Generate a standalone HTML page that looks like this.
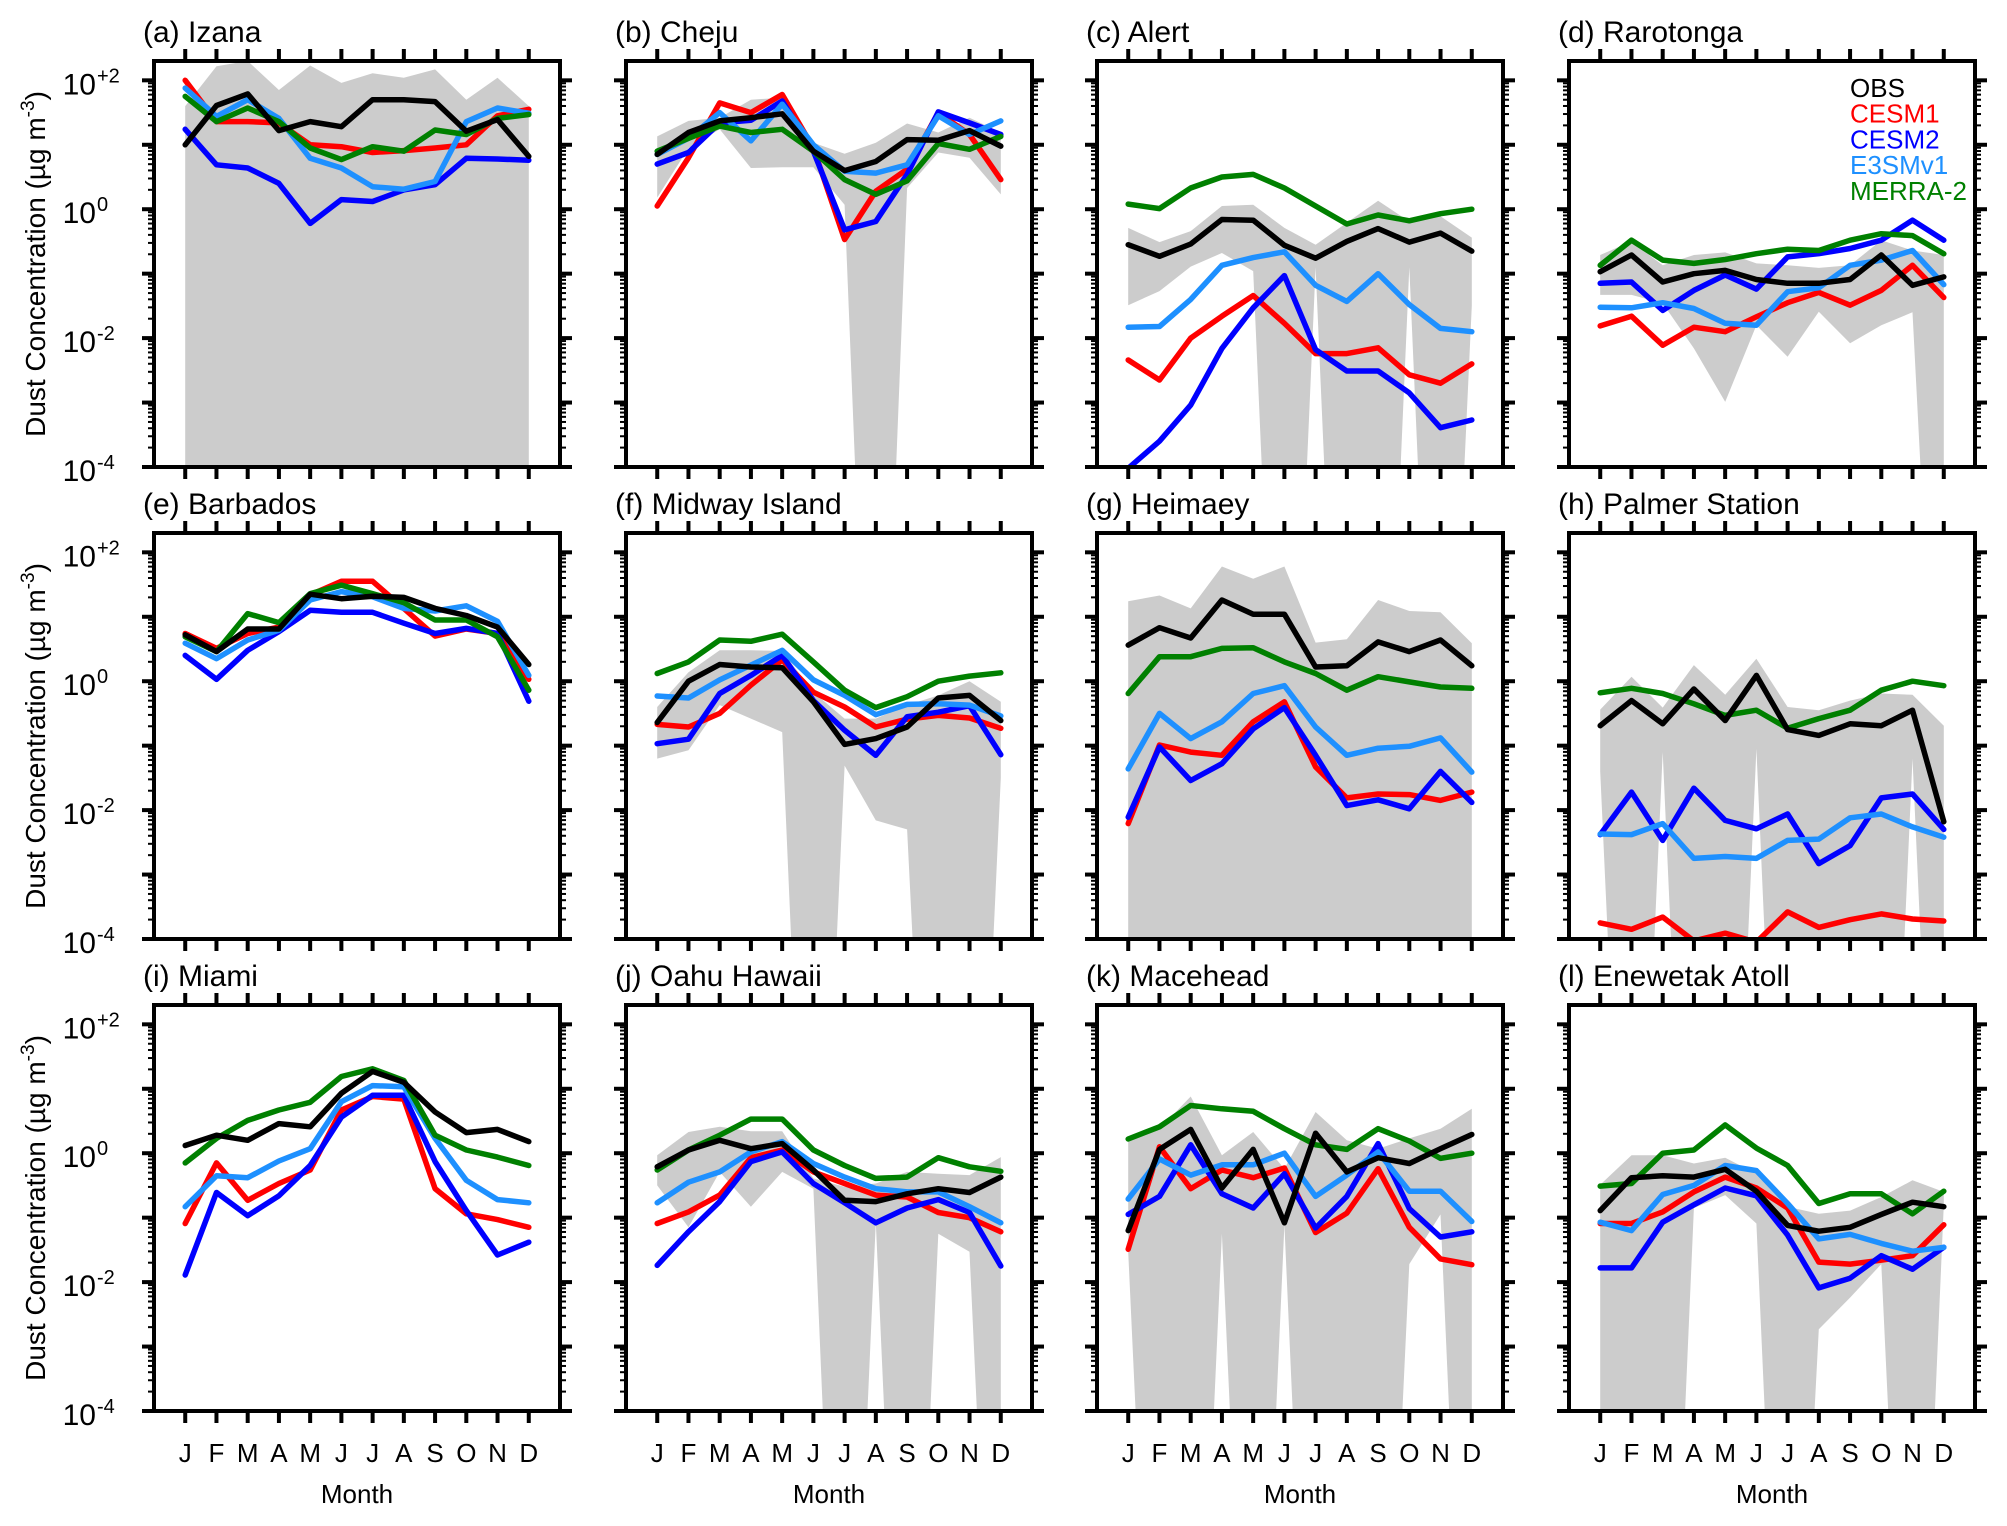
<!DOCTYPE html>
<html><head><meta charset="utf-8"><title>Dust concentration</title>
<style>html,body{margin:0;padding:0;background:#fff;width:2007px;height:1526px;overflow:hidden}svg{display:block}text{font-family:"Liberation Sans",Arial,sans-serif}</style>
</head><body>
<svg id="chart" width="2007" height="1526" viewBox="0 0 2007 1526" xmlns="http://www.w3.org/2000/svg"></svg>
<script>
const months = ["J","F","M","A","M","J","J","A","S","O","N","D"];
const stationNames = ["(a) Izana","(b) Cheju","(c) Alert","(d) Rarotonga","(e) Barbados","(f) Midway Island","(g) Heimaey","(h) Palmer Station","(i) Miami","(j) Oahu Hawaii","(k) Macehead","(l) Enewetak Atoll"];
const seriesNames = ["CESM1","CESM2","E3SMv1","MERRA-2","OBS"];
const legendNames = ["OBS","CESM1","CESM2","E3SMv1","MERRA-2"];
const yTickExps = ["+2","0","-2","-4"];
const yTickVals = [2,0,-2,-4];
// log10 of dust concentration (ug m-3)
const obsLog = [
 [1.0,1.61,1.79,1.22,1.36,1.28,1.7,1.7,1.67,1.21,1.39,0.82],
 [0.85,1.19,1.37,1.42,1.48,0.9,0.6,0.74,1.08,1.07,1.22,0.98],
 [-0.55,-0.73,-0.54,-0.16,-0.17,-0.56,-0.76,-0.5,-0.3,-0.51,-0.37,-0.65],
 [-0.97,-0.71,-1.13,-1.0,-0.95,-1.09,-1.15,-1.15,-1.09,-0.71,-1.18,-1.05],
 [0.72,0.46,0.81,0.81,1.35,1.28,1.32,1.3,1.13,1.02,0.84,0.26],
 [-0.64,0.0,0.26,0.22,0.21,-0.32,-0.98,-0.89,-0.71,-0.26,-0.22,-0.61],
 [0.56,0.83,0.67,1.26,1.04,1.04,0.22,0.24,0.61,0.46,0.64,0.24],
 [-0.69,-0.3,-0.66,-0.12,-0.61,0.09,-0.75,-0.84,-0.66,-0.69,-0.45,-2.18],
 [0.12,0.28,0.2,0.46,0.41,0.93,1.27,1.1,0.64,0.32,0.37,0.18],
 [-0.21,0.05,0.2,0.07,0.15,-0.26,-0.73,-0.75,-0.63,-0.55,-0.61,-0.37],
 [-1.2,0.06,0.37,-0.54,0.06,-1.08,0.31,-0.29,-0.07,-0.16,0.07,0.29],
 [-0.89,-0.38,-0.35,-0.37,-0.25,-0.59,-1.12,-1.21,-1.15,-0.95,-0.76,-0.83]
];
const cesm1Log = [
 [2.0,1.36,1.36,1.34,1.0,0.97,0.88,0.91,0.95,1.0,1.45,1.55],
 [0.05,0.8,1.65,1.5,1.78,0.95,-0.47,0.28,0.62,1.5,1.16,0.46],
 [-2.34,-2.65,-2.0,-1.66,-1.34,-1.77,-2.24,-2.24,-2.15,-2.57,-2.7,-2.4],
 [-1.81,-1.66,-2.11,-1.83,-1.9,-1.67,-1.45,-1.29,-1.49,-1.26,-0.87,-1.37],
 [0.74,0.51,0.74,0.84,1.34,1.55,1.55,1.13,0.7,0.81,0.74,0.03],
 [-0.67,-0.71,-0.5,-0.06,0.33,-0.17,-0.4,-0.71,-0.59,-0.53,-0.57,-0.73],
 [-2.21,-0.99,-1.1,-1.15,-0.63,-0.32,-1.33,-1.81,-1.75,-1.76,-1.85,-1.72],
 [-3.75,-3.85,-3.66,-4.03,-3.91,-4.05,-3.58,-3.82,-3.7,-3.61,-3.69,-3.72],
 [-1.09,-0.15,-0.73,-0.47,-0.26,0.67,0.88,0.84,-0.55,-0.94,-1.03,-1.15],
 [-1.09,-0.91,-0.65,-0.07,0.05,-0.29,-0.47,-0.65,-0.68,-0.92,-1.0,-1.22],
 [-1.49,0.1,-0.55,-0.26,-0.38,-0.23,-1.23,-0.93,-0.24,-1.15,-1.64,-1.73],
 [-1.09,-1.09,-0.91,-0.6,-0.37,-0.54,-0.85,-1.69,-1.72,-1.66,-1.59,-1.11]
];
const cesm2Log = [
 [1.24,0.69,0.64,0.4,-0.22,0.15,0.12,0.3,0.38,0.79,0.78,0.76],
 [0.7,0.88,1.34,1.38,1.68,0.9,-0.32,-0.19,0.54,1.51,1.34,1.16],
 [-4.02,-3.6,-3.04,-2.16,-1.53,-1.03,-2.18,-2.51,-2.51,-2.85,-3.39,-3.27],
 [-1.15,-1.13,-1.57,-1.26,-1.02,-1.24,-0.74,-0.69,-0.61,-0.48,-0.17,-0.48],
 [0.4,0.03,0.48,0.77,1.1,1.07,1.07,0.9,0.74,0.82,0.74,-0.31],
 [-0.97,-0.9,-0.19,0.09,0.4,-0.3,-0.76,-1.15,-0.55,-0.48,-0.38,-1.14],
 [-2.11,-1.02,-1.54,-1.28,-0.74,-0.41,-1.15,-1.93,-1.84,-1.98,-1.4,-1.88],
 [-2.38,-1.72,-2.47,-1.66,-2.16,-2.29,-2.06,-2.83,-2.55,-1.81,-1.75,-2.3],
 [-1.89,-0.61,-0.97,-0.66,-0.19,0.56,0.9,0.9,-0.13,-0.89,-1.58,-1.38],
 [-1.74,-1.22,-0.75,-0.13,0.02,-0.47,-0.77,-1.08,-0.85,-0.72,-0.92,-1.75],
 [-0.95,-0.67,0.13,-0.63,-0.85,-0.32,-1.16,-0.67,0.15,-0.86,-1.3,-1.22],
 [-1.78,-1.78,-1.07,-0.8,-0.54,-0.66,-1.27,-2.09,-1.94,-1.59,-1.8,-1.46]
];
const e3smLog = [
 [1.88,1.44,1.7,1.41,0.79,0.64,0.35,0.31,0.43,1.36,1.57,1.49],
 [0.85,1.1,1.5,1.06,1.63,1.0,0.59,0.56,0.69,1.45,1.16,1.37],
 [-1.83,-1.82,-1.4,-0.87,-0.75,-0.66,-1.18,-1.43,-1.0,-1.48,-1.85,-1.9],
 [-1.52,-1.53,-1.45,-1.54,-1.77,-1.8,-1.28,-1.22,-0.87,-0.79,-0.64,-1.17],
 [0.59,0.35,0.64,0.79,1.26,1.39,1.31,1.13,1.09,1.17,0.93,0.09],
 [-0.23,-0.26,0.02,0.25,0.48,0.02,-0.22,-0.52,-0.36,-0.35,-0.37,-0.54],
 [-1.36,-0.5,-0.89,-0.63,-0.19,-0.07,-0.71,-1.15,-1.04,-1.01,-0.88,-1.41],
 [-2.37,-2.38,-2.21,-2.75,-2.72,-2.75,-2.47,-2.45,-2.12,-2.06,-2.26,-2.42],
 [-0.83,-0.35,-0.38,-0.12,0.07,0.8,1.05,1.03,0.23,-0.42,-0.72,-0.77],
 [-0.77,-0.45,-0.29,0.02,0.18,-0.16,-0.37,-0.55,-0.6,-0.6,-0.83,-1.08],
 [-0.71,-0.09,-0.34,-0.18,-0.18,0.0,-0.67,-0.34,0.02,-0.59,-0.59,-1.06],
 [-1.07,-1.2,-0.64,-0.5,-0.19,-0.27,-0.78,-1.33,-1.26,-1.4,-1.52,-1.46]
];
const merraLog = [
 [1.75,1.36,1.57,1.36,0.95,0.77,0.97,0.9,1.23,1.16,1.41,1.47],
 [0.9,1.1,1.29,1.19,1.24,0.9,0.46,0.23,0.44,1.02,0.93,1.13],
 [0.08,0.01,0.33,0.5,0.54,0.33,0.05,-0.23,-0.09,-0.18,-0.07,0.0],
 [-0.87,-0.48,-0.79,-0.84,-0.78,-0.69,-0.62,-0.64,-0.48,-0.38,-0.41,-0.69],
 [0.69,0.46,1.05,0.91,1.36,1.49,1.36,1.22,0.95,0.95,0.69,-0.14],
 [0.12,0.3,0.64,0.62,0.73,0.3,-0.14,-0.41,-0.24,0.0,0.08,0.13],
 [-0.19,0.38,0.38,0.51,0.52,0.3,0.12,-0.14,0.07,-0.01,-0.09,-0.11],
 [-0.18,-0.11,-0.19,-0.35,-0.53,-0.45,-0.73,-0.58,-0.45,-0.14,0.0,-0.07],
 [-0.15,0.23,0.51,0.67,0.79,1.19,1.31,1.13,0.28,0.05,-0.06,-0.19],
 [-0.26,0.05,0.28,0.53,0.53,0.05,-0.19,-0.39,-0.37,-0.07,-0.21,-0.28],
 [0.22,0.41,0.74,0.69,0.65,0.38,0.13,0.06,0.38,0.19,-0.08,0.0],
 [-0.51,-0.47,0.0,0.05,0.44,0.08,-0.19,-0.78,-0.63,-0.63,-0.94,-0.59]
];
const bandHiLog = [
 [1.6,2.22,2.3,1.85,2.23,1.96,2.11,2.04,2.17,1.7,2.04,1.6],
 [1.13,1.37,1.42,1.7,1.73,1.03,0.86,1.03,1.33,1.19,1.42,1.19],
 [-0.29,-0.51,-0.34,0.05,0.07,-0.29,-0.55,-0.21,0.13,-0.19,-0.11,-0.44],
 [-0.71,-0.5,-0.87,-0.71,-0.67,-0.84,-0.87,-0.91,-0.87,-0.48,-0.64,-0.71],
 null,
 [-0.4,0.14,0.48,0.48,0.47,-0.17,-0.58,-0.58,-0.37,-0.22,0.0,-0.32],
 [1.24,1.33,1.13,1.78,1.59,1.78,0.6,0.65,1.26,1.09,1.07,0.59],
 [-0.44,0.07,-0.41,0.25,-0.21,0.35,-0.4,-0.45,-0.3,-0.19,-0.21,-0.69],
 null,
 [-0.03,0.33,0.41,0.34,0.34,-0.39,-0.52,-0.47,-0.29,-0.32,-0.34,-0.06],
 [0.23,0.38,0.88,-0.03,0.33,-0.24,0.64,0.2,0.07,0.23,0.38,0.69],
 [-0.49,-0.03,-0.03,-0.16,-0.07,-0.32,-0.83,-0.94,-0.89,-0.68,-0.42,-0.6]
];
const bandLoLog = [
 [-12,-12,-12,-12,-12,-12,-12,-12,-12,-12,-12,-12],
 [0.18,0.95,1.24,0.64,0.65,0.65,0.07,-12,0.33,0.88,0.8,0.23],
 [-1.49,-1.27,-0.89,-0.68,-0.96,-12,-0.9,-12,-12,-0.9,-12,-1.5],
 [-1.33,-1.33,-1.46,-2.16,-2.99,-1.8,-2.29,-1.59,-2.08,-1.8,-1.6,-11],
 null,
 [-1.2,-1.07,-0.37,-0.58,-0.79,-12,-1.31,-2.16,-2.3,-12,-12,-1.5],
 [-12,-12,-12,-12,-12,-12,-12,-12,-12,-12,-12,-12],
 [-1.4,-12,-1.1,-12,-12,-1.05,-12,-12,-12,-12,-1.2,-12],
 null,
 [-0.5,-1.15,-0.29,-0.83,-0.29,-0.55,-12,-1.07,-12,-1.25,-1.53,-12],
 [-1.53,-12,-12,-1.25,-12,-1.11,-12,-12,-12,-1.72,-0.95,-12],
 [-12,-12,-12,-0.85,-0.65,-1.09,-12,-2.73,-2.24,-1.72,-12,-0.8]
];
const seriesData = [cesm1Log, cesm2Log, e3smLog, merraLog, obsLog];
const seriesColors = ["#ff0000","#0000ff","#1e90ff","#008000","#000000"];
const legendColors = ["#000000","#ff0000","#0000ff","#1e90ff","#008000"];

const NS = "http://www.w3.org/2000/svg";
const svg = document.getElementById("chart");
const lefts = [154, 626, 1097, 1569];
const tops = [61, 533, 1005];
const W = 406, H = 406, YMAX = 2.3, YMIN = -4;
function mk(tag, attrs, parent){
  const e = document.createElementNS(NS, tag);
  for (const k in attrs) e.setAttribute(k, attrs[k]);
  (parent || svg).appendChild(e);
  return e;
}
function fmt(n){ return n.toFixed(1); }

for (let p = 0; p < 12; p++) {
  const col = p % 4, row = Math.floor(p / 4);
  const L = lefts[col], T = tops[row];
  const xS = i => L + (i + 1) * W / 13;
  const yS = v => T + (YMAX - v) * H / (YMAX - YMIN);
  const g = mk("g", {});
  
  
  const clipId = "clip" + p;
  const cp = mk("clipPath", {id: clipId}, g);
  mk("rect", {x: L, y: T, width: W, height: H}, cp);
  const plot = mk("g", {"clip-path": "url(#" + clipId + ")"}, g);

  const hi = bandHiLog[p], lo = bandLoLog[p];
  if (hi && lo) {
    let pts = [];
    for (let i = 0; i < 12; i++) pts.push(fmt(xS(i)) + "," + fmt(yS(hi[i])));
    for (let i = 11; i >= 0; i--) pts.push(fmt(xS(i)) + "," + fmt(yS(lo[i])));
    const band = mk("polygon", {points: pts.join(" "), fill: "#cccccc", stroke: "none"}, plot);
    
    
  }
  for (let s = 0; s < seriesData.length; s++) {
    const vals = seriesData[s][p];
    const pts = vals.map((v, i) => fmt(xS(i)) + "," + fmt(yS(v))).join(" ");
    const line = mk("polyline", {points: pts, fill: "none", stroke: seriesColors[s], "stroke-width": 5.5, "stroke-linejoin": "round", "stroke-linecap": "round"}, plot);
    
    
  }
  const frame = mk("rect", {x: L, y: T, width: W, height: H, fill: "none", stroke: "#000", "stroke-width": 4}, g);
  
  
  for (let i = 0; i < 12; i++) {
    const x = xS(i);
    mk("line", {x1: x, y1: T - 12, x2: x, y2: T, stroke: "#000", "stroke-width": 4}, g);
    mk("line", {x1: x, y1: T + H, x2: x, y2: T + H + 12, stroke: "#000", "stroke-width": 4}, g);
  }
  for (let d = -4; d <= 2; d++) {
    const y = yS(d);
    mk("line", {x1: L - 12, y1: y, x2: L, y2: y, stroke: "#000", "stroke-width": 4}, g);
    mk("line", {x1: L + W, y1: y, x2: L + W + 12, y2: y, stroke: "#000", "stroke-width": 4}, g);
    if (d < 2) {
      for (let k = 2; k <= 9; k++) {
        const ym = yS(d + Math.log10(k));
        mk("line", {x1: L - 6, y1: ym, x2: L, y2: ym, stroke: "#000", "stroke-width": 2}, g);
        mk("line", {x1: L + W, y1: ym, x2: L + W + 6, y2: ym, stroke: "#000", "stroke-width": 2}, g);
      }
    }
  }
  const title = mk("text", {x: L - 11, y: T - 19, "font-size": 30, fill: "#000"}, g);
  title.textContent = stationNames[p];
  
  
  if (col === 0) {
    for (let t = 0; t < yTickVals.length; t++) {
      const y = yS(yTickVals[t]);
      const lab = mk("text", {x: 96, y: y + 14, "font-size": 30, "text-anchor": "end", fill: "#000"}, g);
      lab.textContent = "10";
      
      
      const sup = mk("text", {x: 97, y: y + 2, "font-size": 20, fill: "#000"}, g);
      sup.textContent = yTickExps[t];
      
      
    }
    const yt = mk("text", {x: 0, y: 0, "font-size": 28, "text-anchor": "middle", fill: "#000", transform: "translate(45," + (T + H / 2) + ") rotate(-90)"}, g);
    
    
    const t1 = mk("tspan", {}, yt); t1.textContent = "Dust Concentration (µg m";
    const t2 = mk("tspan", {dy: -11, "font-size": 19}, yt); t2.textContent = "-3";
    const t3 = mk("tspan", {dy: 11}, yt); t3.textContent = ")";
  }
  if (row === 2) {
    for (let i = 0; i < 12; i++) {
      const m = mk("text", {x: xS(i), y: T + H + 51, "font-size": 26, "text-anchor": "middle", fill: "#000"}, g);
      m.textContent = months[i];
      
      
    }
    const xt = mk("text", {x: L + W / 2, y: T + H + 92, "font-size": 26, "text-anchor": "middle", fill: "#000"}, g);
    xt.textContent = "Month";
    
    
  }
  if (p === 3) {
    for (let k = 0; k < legendNames.length; k++) {
      const le = mk("text", {x: 1850, y: 97 + k * 25.7, "font-size": 26, fill: legendColors[k]}, g);
      le.textContent = legendNames[k];
      
      
    }
  }
}
</script>
</body></html>
